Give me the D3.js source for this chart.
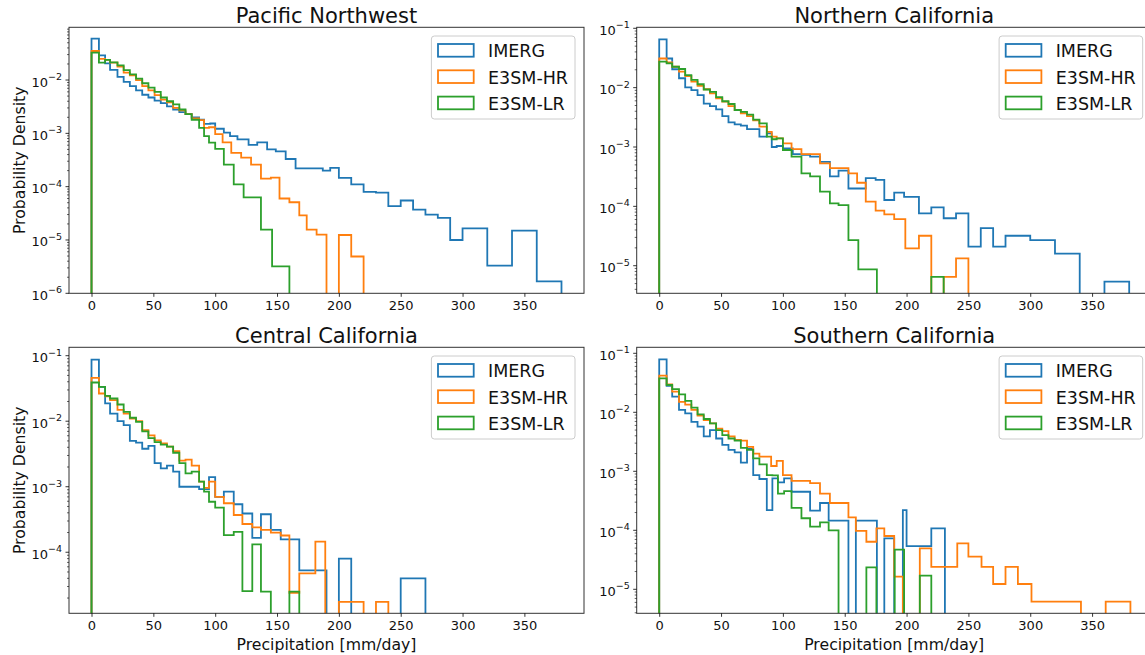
<!DOCTYPE html>
<html>
<head>
<meta charset="utf-8">
<script src="https://cdn.jsdelivr.net/npm/d3@7"></script>
<style>
    body { margin: 0; background: #fff; }
    svg { display: block; font-family: "DejaVu Sans", sans-serif; }
</style>
</head>
<body>
<svg id="chart" width="1145" height="655"></svg>
<script>
// Series names and colours (matplotlib tab10)
const seriesNames = ["IMERG", "E3SM-HR", "E3SM-LR"];
const seriesColors = ["#1f77b4", "#ff7f0e", "#2ca02c"];
const regionTitles = ["Pacific Northwest", "Northern California", "Central California", "Southern California"];
const xTicks = [0, 50, 100, 150, 200, 250, 300, 350];

// Step histograms: [left bin edge, probability density]; value 0 = empty bin
const pnwImerg = [[0,0.06],[6,0.029],[11,0.0205],[15,0.0155],[21,0.0115],[26,0.0092],[31,0.0077],[36,0.0064],[41,0.0053],[46,0.0047],[51,0.0041],[56,0.0037],[61,0.0032],[66,0.0028],[71,0.0025],[76,0.0023],[81,0.002],[87,0.0018],[91,0.0015],[96,0.00153],[100,0.00122],[107,0.00103],[112,0.00089],[118,0.00077],[127,0.00061],[134,0.00068],[142,0.0005],[149,0.00046],[157,0.00033],[165,0.00022],[187,0.0002],[193,0.000225],[200,0.000146],[210,0.00011],[220,8e-5],[230,7.7e-5],[240,4.3e-5],[250,5.5e-5],[260,3.7e-5],[270,3e-5],[280,2.6e-5],[290,1e-5],[300,1.65e-5],[320,3.3e-6],[340,1.5e-5],[360,1.67e-6],[380,0]];
const pnwHr = [[0,0.035],[6,0.025],[11,0.0238],[15,0.0212],[21,0.0179],[26,0.0138],[31,0.0123],[36,0.01],[41,0.0077],[46,0.0064],[51,0.0052],[56,0.0043],[61,0.0038],[66,0.003],[71,0.0027],[76,0.0023],[81,0.0019],[87,0.00177],[91,0.00127],[95,0.0013],[100,0.00097],[106,0.00068],[113,0.00043],[121,0.00035],[129,0.00026],[137,0.000142],[145,0.000148],[152,6e-5],[160,5.1e-5],[168,2.9e-5],[174,1.56e-5],[182,1.26e-5],[190,0],[200,1.24e-5],[210,4.9e-6],[220,0]];
const pnwLr = [[0,0.0327],[6,0.0212],[11,0.0238],[15,0.0215],[21,0.0189],[26,0.0154],[31,0.0128],[36,0.0106],[41,0.0087],[46,0.0072],[51,0.006],[56,0.0047],[61,0.004],[66,0.0035],[71,0.0028],[76,0.0023],[81,0.0018],[87,0.00127],[91,0.00089],[95,0.00067],[100,0.00051],[107,0.00026],[115,0.00011],[123,6.3e-5],[137,1.56e-5],[146,3.2e-6],[160,0]];

const ncaImerg = [[0,0.065],[6,0.031],[10.5,0.0204],[16,0.0144],[21,0.0101],[26,0.0091],[31,0.0075],[36,0.0054],[41,0.0049],[46,0.0043],[51,0.0033],[56,0.0026],[61,0.0024],[66,0.0023],[71,0.002],[81,0.0015],[87,0.0017],[91,0.001],[95,0.00104],[100,0.00095],[108,0.00076],[115,0.00074],[122,0.00069],[130,0.00056],[138,0.00032],[145,0.0004],[153,0.0002],[167,0.0003],[175,0.00028],[182,0.000128],[190,0.00017],[198,0.000145],[210,7.6e-5],[220,9.6e-5],[230,6.3e-5],[240,7.6e-5],[250,2.1e-5],[260,4.3e-5],[270,2.1e-5],[280,3.2e-5],[300,2.7e-5],[320,1.6e-5],[340,0],[360,5.4e-6],[380,0]];
const ncaHr = [[0,0.031],[6,0.0267],[10.5,0.0225],[16,0.0186],[21,0.0157],[26,0.0126],[31,0.0107],[36,0.0094],[41,0.008],[46,0.0066],[51,0.0058],[56,0.0049],[61,0.0042],[66,0.0037],[71,0.0033],[76,0.0028],[81,0.0022],[87,0.0018],[91,0.0015],[95,0.0014],[100,0.00115],[107,0.00092],[115,0.00076],[130,0.00053],[138,0.00044],[153,0.00036],[160,0.00025],[167,0.00012],[175,8.5e-5],[182,7.3e-5],[190,6.1e-5],[199,1.96e-5],[210,3.2e-5],[220,0],[230,6.5e-6],[240,1.33e-5],[250,0]];
const ncaLr = [[0,0.0274],[6,0.0257],[10.5,0.0225],[16,0.0206],[21,0.0163],[26,0.0135],[31,0.0114],[36,0.0093],[41,0.0085],[46,0.0069],[51,0.0059],[56,0.0053],[61,0.0042],[66,0.0039],[71,0.0035],[76,0.0029],[81,0.0025],[87,0.0015],[91,0.00135],[95,0.0014],[100,0.00089],[107,0.00069],[115,0.00036],[122,0.00032],[130,0.000177],[138,0.000112],[145,0.000105],[153,2.7e-5],[161,8.7e-6],[176,0],[220,6.5e-6],[230,0]];

const ccaImerg = [[0,0.087],[6,0.0334],[11,0.0187],[15,0.0131],[21,0.01],[26,0.0087],[31,0.005],[36,0.0047],[41,0.0038],[46,0.0042],[51,0.0023],[56,0.0019],[61,0.0021],[66,0.0017],[71,0.001],[87,0.00092],[95,0.0014],[100,0.0007],[107,0.00084],[115,0.00054],[122,0.00039],[130,0.000166],[137,0.00038],[145,0.00022],[153,0.000157],[168,5.3e-5],[190,0],[200,8e-5],[210,0],[250,4e-5],[270,0]];
const ccaHr = [[0,0.046],[6,0.0265],[11,0.024],[15,0.021],[21,0.0149],[26,0.0131],[31,0.011],[36,0.01],[41,0.0073],[46,0.0061],[51,0.0051],[56,0.0046],[61,0.0041],[66,0.0035],[71,0.0025],[76,0.0026],[81,0.0021],[87,0.0012],[91,0.00096],[95,0.0012],[100,0.0007],[107,0.00056],[115,0.00037],[122,0.00027],[130,0.00024],[137,0.00022],[145,0.0002],[153,0.00018],[160,2.4e-5],[168,4.75e-5],[181,0.000145],[189,0],[200,1.75e-5],[220,0],[230,1.75e-5],[240,0]];
const ccaLr = [[0,0.039],[6,0.0334],[11,0.0244],[15,0.0222],[21,0.018],[26,0.0139],[31,0.0113],[36,0.0098],[41,0.007],[46,0.0055],[51,0.0048],[56,0.0044],[61,0.0041],[66,0.0033],[71,0.0023],[76,0.0016],[81,0.0017],[87,0.0012],[91,0.00084],[95,0.00059],[100,0.00048],[107,0.000183],[115,0.000205],[122,2.55e-5],[130,0.000132],[137,2.5e-5],[145,0],[160,2.5e-5],[168,0]];

const scaImerg = [[0,0.079],[6,0.028],[10.5,0.0184],[16,0.011],[21,0.0096],[26,0.0069],[31,0.0057],[36,0.0039],[41,0.005],[46,0.0036],[51,0.0028],[56,0.0023],[61,0.0021],[66,0.0014],[71,0.0024],[76,0.00086],[81,0.00074],[87,0.00022],[91.5,0.00076],[96,0.00065],[101,0.00076],[107,0.00045],[122,0.000215],[130,0.00029],[137,0.000146],[153,0],[159,0.000146],[176,0],[182,7.3e-5],[190,0],[197,0.00022],[200,5.4e-5],[220,0.000108],[231,0]];
const scaHr = [[0,0.042],[6,0.0298],[10.5,0.0224],[16,0.015],[21,0.0135],[26,0.011],[31,0.0088],[36,0.0074],[41,0.0065],[46,0.0053],[51,0.0048],[56,0.0039],[61,0.0034],[66,0.0033],[71,0.0026],[76,0.002],[81,0.00177],[90.5,0.00123],[95,0.0015],[100,0.00086],[107,0.00069],[122,0.00063],[130,0.00042],[138,0.00029],[153,0.000166],[159,9.8e-5],[167.5,6.4e-5],[175.6,0.000108],[182,8e-5],[190,1.64e-5],[197,0],[210.7,4.95e-5],[220,2.4e-5],[241,6e-5],[250,3.57e-5],[260.6,2.4e-5],[270,1.23e-5],[280,2.4e-5],[290,1.23e-5],[301,6.2e-6],[341,0],[361,6.2e-6],[381,0]];
const scaLr = [[0,0.0377],[6,0.029],[10.5,0.0248],[16,0.0202],[21,0.0156],[26,0.012],[31,0.0092],[36,0.0077],[41,0.0065],[46,0.005],[51,0.0041],[56,0.0036],[61,0.0033],[66,0.0025],[71,0.0023],[76,0.00166],[81,0.00131],[87,0.00086],[91.5,0.00085],[96,0.00042],[101,0.00046],[107,0.00024],[115,0.00016],[122,0.000115],[130,0.000136],[137,0.0001],[145,0],[167.5,2.35e-5],[175.6,0],[190.4,4.7e-5],[198,0],[210.7,1.7e-5],[220,0]];

// Panel layout (pixel boxes and axis limits)
const panels = [
    { title: regionTitles[0], data: [pnwImerg, pnwHr, pnwLr], left: 69, right: 584, top: 27.3, bottom: 293.3, yDomain: [1e-6, 0.0975], yLabel: true, xLabel: false },
    { title: regionTitles[1], data: [ncaImerg, ncaHr, ncaLr], left: 636.7, right: 1151.7, top: 27.3, bottom: 293.3, yDomain: [3.43e-6, 0.1039], yLabel: false, xLabel: false },
    { title: regionTitles[2], data: [ccaImerg, ccaHr, ccaLr], left: 69, right: 584, top: 347.3, bottom: 613.3, yDomain: [1.17e-5, 0.1343], yLabel: true, xLabel: true },
    { title: regionTitles[3], data: [scaImerg, scaHr, scaLr], left: 636.7, right: 1151.7, top: 347.3, bottom: 613.3, yDomain: [3.92e-6, 0.1264], yLabel: false, xLabel: true }
];
const xDomain = [-18.2, 398.2];

const svg = d3.select('#chart');

panels.forEach((p, i) => {
    const x = d3.scaleLinear().domain(xDomain).range([p.left, p.right]);
    const y = d3.scaleLog().domain(p.yDomain).range([p.bottom, p.top]);
    const g = svg.append('g');

    // Clip lines to the axes box
    const clipId = 'clip' + i;
    g.append('clipPath').attr('id', clipId)
        .append('rect')
        .attr('x', p.left).attr('y', p.top)
        .attr('width', p.right - p.left).attr('height', p.bottom - p.top);

    // Step histogram lines, empty bins drop below the axes
    const line = d3.line()
        .x(d => x(d[0]))
        .y(d => d[1] > 0 ? y(d[1]) : p.bottom + 6)
        .curve(d3.curveStepAfter);

    p.data.forEach((s, k) => {
        g.append('path')
            .datum([[s[0][0], 0], ...s])
            .attr('d', line)
            .attr('fill', 'none')
            .attr('stroke', seriesColors[k])
            .attr('stroke-width', 1.8)
            .attr('stroke-linejoin', 'miter')
            .attr('clip-path', `url(#${clipId})`);
    });

    // Spines
    g.append('rect')
        .attr('x', p.left).attr('y', p.top)
        .attr('width', p.right - p.left).attr('height', p.bottom - p.top)
        .attr('fill', 'none')
        .attr('stroke', '#333')
        .attr('stroke-width', 1);

    // X axis ticks and labels
    const xAxis = g.append('g')
        .attr('transform', `translate(0,${p.bottom})`)
        .call(d3.axisBottom(x).tickValues(xTicks).tickSize(3.5).tickPadding(3.5));
    xAxis.select('.domain').remove();
    xAxis.selectAll('line').attr('stroke', '#000').attr('stroke-width', 0.8);
    xAxis.selectAll('text')
        .attr('font-size', 13)
        .attr('font-family', '"DejaVu Sans", sans-serif')
        .attr('fill', '#111');

    // Y axis: decade ticks with superscript labels, minor ticks in between
    const [lo, hi] = p.yDomain;
    const decades = d3.range(Math.ceil(Math.log10(lo) - 1e-9), Math.floor(Math.log10(hi) + 1e-9) + 1);
    const minor = [];
    d3.range(Math.floor(Math.log10(lo)), Math.ceil(Math.log10(hi)) + 1).forEach(e => {
        for (let m = 2; m <= 9; m++) {
            const v = m * Math.pow(10, e);
            if (v >= lo && v <= hi) minor.push(v);
        }
    });
    g.selectAll('.minor')
        .data(minor)
        .join('line')
        .attr('x1', p.left - 2).attr('x2', p.left)
        .attr('y1', d => y(d)).attr('y2', d => y(d))
        .attr('stroke', '#000').attr('stroke-width', 0.6);

    const major = decades.map(e => ({ e, v: Math.pow(10, e) }));
    g.selectAll('.major')
        .data(major)
        .join('line')
        .attr('x1', p.left - 3.5).attr('x2', p.left)
        .attr('y1', d => y(d.v)).attr('y2', d => y(d.v))
        .attr('stroke', '#000').attr('stroke-width', 0.8);

    const labels = g.selectAll('.ylab')
        .data(major)
        .join('text')
        .attr('x', p.left - 7)
        .attr('y', d => y(d.v) + 6.5)
        .attr('text-anchor', 'end')
        .attr('font-size', 13)
        .attr('fill', '#111');
    labels.append('tspan').text('10');
    labels.append('tspan')
        .attr('dy', -6.5)
        .attr('font-size', 9.5)
        .text(d => '\u2212' + (-d.e));

    // Title
    g.append('text')
        .attr('x', (p.left + p.right) / 2)
        .attr('y', p.top - 4.8)
        .attr('text-anchor', 'middle')
        .attr('font-size', 21)
        .attr('fill', '#111')
        .text(p.title);

    if (p.xLabel) {
        g.append('text')
            .attr('x', (p.left + p.right) / 2)
            .attr('y', p.bottom + 36.5)
            .attr('text-anchor', 'middle')
            .attr('font-size', 15.7)
            .attr('fill', '#111')
            .text('Precipitation [mm/day]');
    }
    if (p.yLabel) {
        g.append('text')
            .attr('transform', `translate(24.5,${(p.top + p.bottom) / 2}) rotate(-90)`)
            .attr('text-anchor', 'middle')
            .attr('font-size', 15.7)
            .attr('fill', '#111')
            .text('Probability Density');
    }

    // Legend
    const lx = p.right - 9 - 143.6;
    const ly = p.top + 8.7;
    const legend = g.append('g').attr('transform', `translate(${lx},${ly})`);
    legend.append('rect')
        .attr('width', 143.6).attr('height', 83)
        .attr('rx', 3)
        .attr('fill', '#fff').attr('fill-opacity', 0.8)
        .attr('stroke', '#ccc').attr('stroke-width', 1);
    seriesNames.forEach((name, k) => {
        legend.append('rect')
            .attr('x', 6.6).attr('y', 8 + k * 26.3)
            .attr('width', 35.7).attr('height', 12.7)
            .attr('fill', 'none')
            .attr('stroke', seriesColors[k])
            .attr('stroke-width', 1.8);
        legend.append('text')
            .attr('x', 56.6).attr('y', 21.3 + k * 26.3)
            .attr('font-size', 17.5)
            .attr('fill', '#111')
            .text(name);
    });
});
</script>
</body>
</html>
